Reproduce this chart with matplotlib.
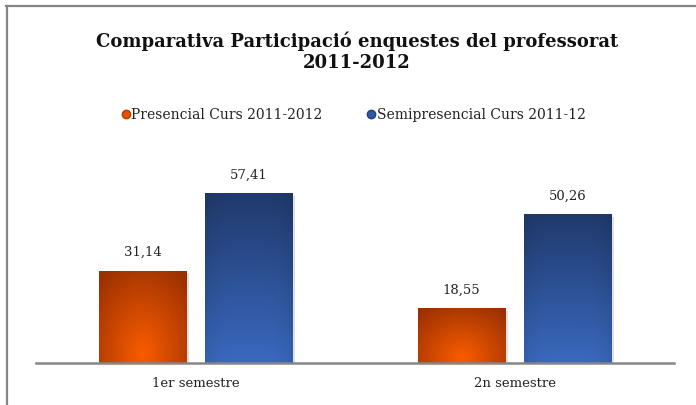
import numpy as np
import matplotlib.pyplot as plt
from matplotlib.lines import Line2D
from matplotlib.colors import to_rgb

categories = ['1er semestre', '2n semestre']
series = ['Presencial Curs 2011-2012', 'Semipresencial Curs 2011-12']
presencial = [31.14, 18.55]
semipresencial = [57.41, 50.26]
title = 'Comparativa Participació enquestes del professorat\n2011-2012'

plt.rcParams['font.family'] = ['DejaVu Serif']

fig = plt.figure(figsize=(6.96, 4.05), dpi=100)
ax = fig.add_axes([0.0517, 0.1037, 0.9167, 0.511])

x = np.arange(len(categories))
w = 0.273
off = 0.166


def radial_orange(ny=60, nx=40):
    yy, xx = np.mgrid[0:1:ny * 1j, 0:1:nx * 1j]
    d = np.sqrt(((xx - 0.5) / 0.75) ** 2 + ((yy - 0.1) / 1.1) ** 2)
    d = np.clip(d, 0, 1)
    c0 = np.array(to_rgb('#fa5c00'))
    c1 = np.array(to_rgb('#9a3000'))
    return c0 + (c1 - c0) * d[..., None]


def linear_blue(ny=60, nx=40):
    yy, xx = np.mgrid[0:1:ny * 1j, 0:1:nx * 1j]
    t = yy
    c0 = np.array(to_rgb('#3a69bf'))
    c1 = np.array(to_rgb('#203a6c'))
    img = c0 + (c1 - c0) * t[..., None]
    edge = 1 - 0.08 * (np.abs(xx - 0.5) * 2) ** 4
    return img * edge[..., None]


def draw(xs, vals, grad):
    bars = ax.bar(xs, vals, w, color='none', edgecolor='none', zorder=3)
    for b in bars:
        x0, h = b.get_x(), b.get_height()
        # soft shadow
        ax.bar(x0 + b.get_width() / 2 + 0.008, h, b.get_width(), bottom=-0.8,
               color='#000000', alpha=0.12, edgecolor='none', zorder=2)
        im = ax.imshow(grad(), extent=[x0, x0 + b.get_width(), 0, h],
                       origin='lower', aspect='auto', zorder=3, interpolation='bicubic')
        im.set_clip_path(b)
    for b, v in zip(bars, vals):
        ax.text(b.get_x() + b.get_width() / 2, v + 4.0, f'{v:.2f}'.replace('.', ','),
                ha='center', va='bottom', fontsize=9.5, color='#222222')
    return bars


draw(x - off, presencial, radial_orange)
draw(x + off, semipresencial, linear_blue)

ax.set_xlim(-0.5, 1.5)
ax.set_ylim(0, 70)
ax.set_xticks(x)
ax.set_xticklabels(categories, fontsize=9.5, color='#222222')
ax.tick_params(axis='x', length=0, pad=10)
ax.set_yticks([])
for s in ['top', 'right', 'left']:
    ax.spines[s].set_visible(False)
ax.spines['bottom'].set_color('#868686')
ax.spines['bottom'].set_linewidth(1.8)
ax.spines['bottom'].set_zorder(4)

fig.text(0.513, 0.873, title, ha='center', va='center', fontsize=13,
         fontweight='bold', linespacing=1.2, color='#111111')

handles = [Line2D([], [], ls='none', marker='o', ms=6, mfc='#e45200', mec='#b03c00'),
           Line2D([], [], ls='none', marker='o', ms=6, mfc='#2e5aa8', mec='#213f78')]
leg = fig.legend(handles, series, loc='center', bbox_to_anchor=(0.508, 0.716), ncol=2,
                 frameon=False, fontsize=10, handlelength=0.6, handletextpad=0.1,
                 columnspacing=3.2)
for t in leg.get_texts():
    t.set_color('#222222')

# chart border (top and left visible)
fig.add_artist(Line2D([6 / 696, 1], [1 - 5.5 / 405] * 2, transform=fig.transFigure,
                      color='#858585', lw=1.6))
fig.add_artist(Line2D([6.5 / 696] * 2, [0, 1 - 5.5 / 405], transform=fig.transFigure,
                      color='#858585', lw=1.6))

fig.savefig('out.png', dpi=100)
